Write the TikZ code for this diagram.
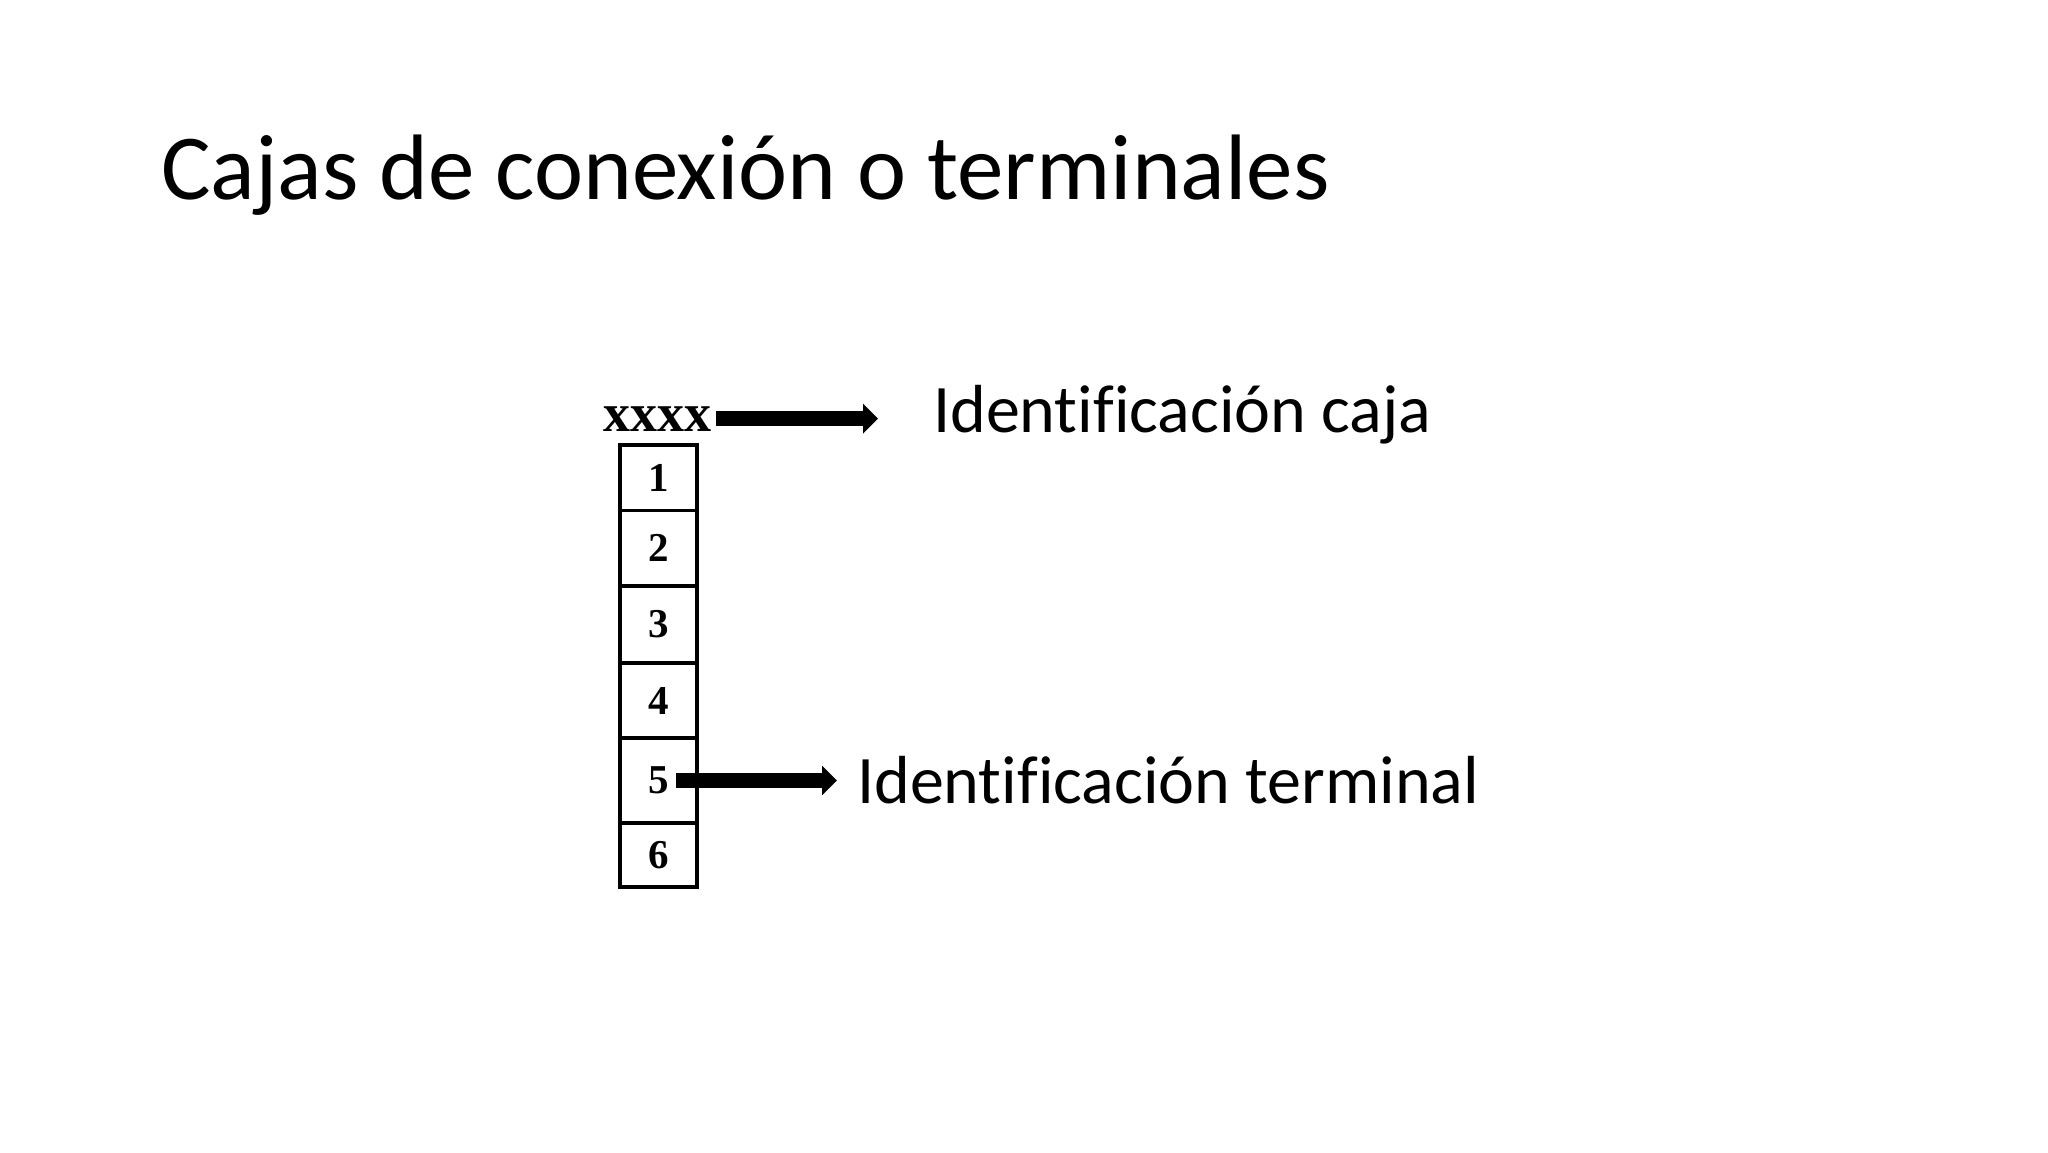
\documentclass[tikz,border=0pt]{standalone}
\usepackage{fontspec}
\setmainfont{Carlito}[Ligatures=CommonOff]
\newfontfamily\scanfont{Liberation Serif}
\usetikzlibrary{positioning,arrows.meta}

\tikzset{
  slidetitle/.style={anchor=base west, inner sep=0pt, font=\fontsize{93}{100}\selectfont},
  lbltext/.style={anchor=base west, inner sep=0pt, font=\fontsize{68}{76}\selectfont},
  boxid/.style={anchor=base west, inner sep=0pt, font=\scanfont\bfseries\fontsize{54}{60}\selectfont},
  cell/.style={draw, line width=3.5pt, minimum width=77pt, inner sep=0pt, outer sep=0pt,
    font=\scanfont\bfseries\fontsize{41}{44}\selectfont},
  fatarrow/.style={line width=15pt, -{Triangle[length=15pt,width=29pt]}}
}

\begin{document}
\begin{tikzpicture}[x=1pt,y=-1pt]
  \useasboundingbox[fill=white] (0,0) rectangle (2048,1152);

  \node[slidetitle] (title) at (161,199) {Cajas de conexión o terminales};

  % caja de bornes
  \node[boxid] (xxxx) at (603,431) {xxxx};
  \node[cell, minimum height=65.5pt] (c1) at (658.5,477.75) {1};
  \node[cell, minimum height=75.5pt, below=0pt of c1] (c2) {2};
  \node[cell, minimum height=77pt, below=0pt of c2] (c3) {3};
  \node[cell, minimum height=75pt, below=0pt of c3] (c4) {4};
  \node[cell, minimum height=85pt, below=0pt of c4] (c5) {5};
  \node[cell, minimum height=64pt, below=0pt of c5] (c6) {6};

  % rotulos
  \node[lbltext] (lblcaja) at (933,432) {Identificación caja};
  \node[lbltext] (lblterm) at (857,803) {Identificación terminal};

  \coordinate (tipcaja) at (878,415.5);
  \coordinate (tipterm) at (837,780);
  \draw[fatarrow] ([xshift=5pt]xxxx.east) -- (xxxx.east -| tipcaja);
  \draw[fatarrow] ([xshift=17.5pt]c5.center) -- (c5.center -| tipterm);
\end{tikzpicture}
\end{document}
